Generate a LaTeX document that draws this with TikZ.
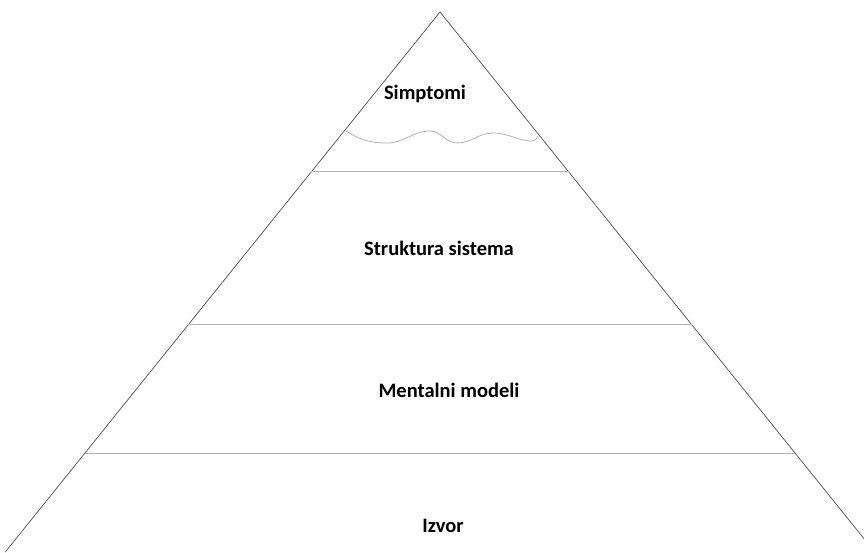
\documentclass[tikz,border=0pt]{standalone}
\usepackage{fontspec}
\setmainfont{Carlito}
\usetikzlibrary{calc}
\tikzset{
  side/.style={draw=black!70, line width=0.7pt},
  divider/.style={draw=black!30, line width=1pt},
  wave/.style={draw=black!30, line width=0.8pt},
  layertext/.style={font=\bfseries\fontsize{20.5}{24}\selectfont, inner sep=0pt, anchor=base}
}
\begin{document}
\begin{tikzpicture}[x=1pt, y=1pt]
            \useasboundingbox (0, 0) rectangle (864, 552);
            \clip (0, 0) rectangle (864, 552);
            % pyramid
            \coordinate (apex) at (440, 540);
            \coordinate (bl) at (5.3, 0);
            \coordinate (br) at (874.7, 0);
            \draw[side] (bl) -- (apex) -- (br);
            % levels
            \draw[divider] ($(apex)!0.2963!(bl)$) -- ($(apex)!0.2963!(br)$);
            \draw[divider] ($(apex)!0.5796!(bl)$) -- ($(apex)!0.5796!(br)$);
            \draw[divider] ($(apex)!0.8167!(bl)$) -- ($(apex)!0.8167!(br)$);
            % waterline under the tip
            \draw[wave] (345, 422) to[out=-35, in=180] (387, 409)
            to[out=0, in=180] (430, 421) to[out=0, in=180] (457, 409)
            to[out=0, in=180] (493, 419) to[out=0, in=175] (530, 411)
            to[out=-5, in=-110] (538, 416);
            % labels
            \node[layertext] (simptomi) at (425, 452) {Simptomi};
            \node[layertext] (struktura) at (439, 296) {Struktura sistema};
            \node[layertext] (mentalni) at (449, 155) {Mentalni modeli};
            \node[layertext] (izvor) at (443, 20) {Izvor};
          \end{tikzpicture}
\end{document}
